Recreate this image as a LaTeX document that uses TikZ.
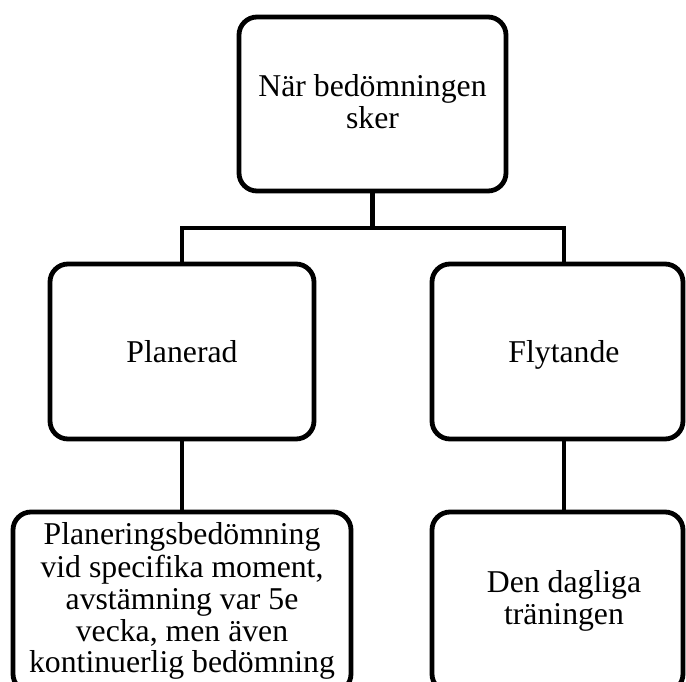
\documentclass[tikz,border=0pt]{standalone}
\usepackage{fontspec}
\setmainfont{Liberation Serif}
% one strut per text line keeps every line box the same height
\newcommand\rowstrut{\rule[-7.14pt]{0pt}{23.8pt}}
\begin{document}
\begin{tikzpicture}[x=0.75pt,y=-0.75pt,
  card/.style={draw=black,line width=3.6pt,rounded corners=13.5pt,
    fill=white,inner sep=0pt},
  cardtext/.style={align=center,inner sep=0pt,text=black,
    font=\fontsize{23.8pt}{23.8pt}\selectfont},
  wire/.style={draw=black,line width=3.6pt}]
\useasboundingbox (0,0) rectangle (686,682);
\clip (0,0) rectangle (686,682);
\fill[white] (0,0) rectangle (686,682);

% boxes
\node[card,minimum width=200.25pt,minimum height=130.5pt] (root) at (372.5,104) {};
\node[card,minimum width=198pt,minimum height=131.25pt] (plan) at (182,351.5) {};
\node[card,minimum width=188.25pt,minimum height=131.25pt] (flyt) at (557.5,351.5) {};
\node[card,minimum width=253.5pt,minimum height=135pt] (planx) at (182,602) {};
\node[card,minimum width=188.25pt,minimum height=135pt] (flytx) at (557.5,602) {};

% labels
\node[cardtext] (rootT) at (372.5,106.2) {\rowstrut När bedömningen\\\rowstrut sker};
\node[cardtext] (planT) at (182,355.7) {\rowstrut Planerad};
\node[cardtext] (flytT) at (564,355.7) {\rowstrut Flytande};
\node[cardtext] (planxT) at (182,602.2) {\rowstrut Planeringsbedömning\\\rowstrut vid specifika moment,\\\rowstrut avstämning var 5e\\\rowstrut vecka, men även\\\rowstrut kontinuerlig bedömning};
\node[cardtext] (flytxT) at (564,602.2) {\rowstrut Den dagliga\\\rowstrut träningen};

% connectors
\coordinate (busL) at (182,228);
\coordinate (busR) at (564,228);
\draw[wire] (root.south) -- (root.south |- busL);
\draw[wire] (busL |- plan.north) -- (busL) -- (busR) -- (busR |- flyt.north);
\draw[wire] (plan.south) -- (planx.north);
\draw[wire] (busR |- flyt.south) -- (busR |- flytx.north);
\end{tikzpicture}
\end{document}
